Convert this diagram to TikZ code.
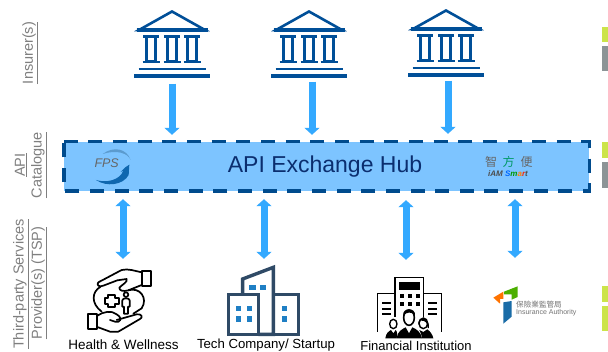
\documentclass[tikz,border=0pt]{standalone}
\usepackage{fontspec}
\setmainfont{Liberation Sans}
\newfontfamily\cjkfont{Noto Sans CJK TC}
\usetikzlibrary{arrows.meta}
\definecolor{bankblue}{HTML}{004F98}
\definecolor{hubfill}{HTML}{7DC4FF}
\definecolor{hubdash}{HTML}{004B8D}
\definecolor{hubtext}{HTML}{0B2E6F}
\definecolor{arrowblue}{HTML}{33A9FF}
\definecolor{sidegray}{HTML}{7F7F7F}
\definecolor{slate}{HTML}{2F4A66}
\definecolor{winblue}{HTML}{1F7FC4}
\definecolor{tilegreen}{HTML}{CCE44A}
\definecolor{tilegray}{HTML}{8C9496}
\tikzset{
  oneway/.style={draw=arrowblue,line width=7pt,-{Triangle[width=15pt,length=7pt]}},
  twoway/.style={draw=arrowblue,line width=7pt,{Triangle[width=15pt,length=7pt]}-{Triangle[width=15pt,length=7pt]}},
  sidelabel/.style={rotate=90,text=sidegray,font=\fontsize{14.5}{15}\selectfont,inner sep=0pt,anchor=center},
  caption/.style={text=black,inner sep=0pt,anchor=center},
  iconbox/.style={inner sep=0pt,minimum width=#1},
  bankline/.style={draw=bankblue,line width=2.6pt},
  pics/bank/.style={code={
    \draw[draw=bankblue,line width=2.6pt,line join=miter] (-33,30) -- (0,11.5) -- (33,30) -- cycle;
    \draw[bankline,line width=3.4pt] (-35.5,30) -- (35.5,30);
    \foreach \cx in {-21,0,20}{
      \draw[draw=bankblue,line width=2.4pt] (\cx-4.6,37) rectangle (\cx+4.6,61);
      \draw[bankline,line width=2.6pt] (\cx-8,36.5) -- (\cx+8,36.5);
      \draw[bankline,line width=2.6pt] (\cx-8.5,62) -- (\cx+8.5,62);
    }
    \draw[bankline,line width=2.8pt] (-33.5,69) -- (33.5,69);
    \draw[bankline,line width=3.2pt] (-38,76) -- (38,76);
  }},
  handline/.style={draw=black,line width=1.7pt,line join=round,line cap=round,fill=none},
}
\begin{document}
\begin{tikzpicture}[x=1pt,y=-1pt]
\useasboundingbox (0,0) rectangle (608,352);
\fill[white] (0,0) rectangle (608,352);
% clipped tiles on the right edge
\fill[tilegreen] (602,27) rectangle (608,42);
\fill[tilegray] (602,46) rectangle (608,71);
\fill[tilegreen] (602,142) rectangle (608,158);
\fill[tilegray] (602,162) rectangle (608,188);
\fill[tilegreen] (602,286) rectangle (608,302);
\fill[tilegreen] (602,306) rectangle (608,331);
% banks
\pic at (172,0) {bank};
\pic at (309,0) {bank};
\pic at (446,-1) {bank};
\node[iconbox=76,minimum height=67] (bank1) at (172,44) {};
\node[iconbox=76,minimum height=67] (bank2) at (309,44) {};
\node[iconbox=76,minimum height=67] (bank3) at (446,43) {};
% hub
\node[fill=hubfill,minimum width=525,minimum height=49,inner sep=0pt] (hub) at (326.5,166.5) {};
\draw[draw=hubdash,line width=3.4pt,dash pattern=on 14pt off 10.65pt] (hub.north west) -- (hub.north east) -- (hub.south east) -- (hub.south west) -- cycle;
\node[font=\fontsize{23}{24}\selectfont,text=hubtext,inner sep=0pt] (hubtitle) at (325,167) {API Exchange Hub};
% FPS logo
\begin{scope}[shift={(60,130)},x=0.3333pt,y=-0.3333pt]
  \fill[arrowblue!40!hubdash!70!white] (128,72) .. controls (160,48) and (200,55) .. (212,90) .. controls (205,70) and (170,58) .. (128,72) -- cycle;
  \fill[hubdash!70!arrowblue] (196,112) -- (208,104) -- (206,135) .. controls (190,165) and (140,172) .. (108,150) .. controls (140,160) and (180,150) .. (190,122) -- (182,126) -- cycle;
  \node[text=black!60,font=\fontsize{12.5}{13}\selectfont\itshape,inner sep=0pt] (fps) at (140,100) {FPS};
\end{scope}
% iAM Smart logo
\begin{scope}[shift={(480,130)},x=0.3333pt,y=-0.3333pt]
  \node[text=black!60,font=\cjkfont\fontsize{12}{13}\selectfont,inner sep=0pt] (zhi) at (33,95) {智};
  \node[text=teal!80!green,font=\cjkfont\fontsize{12}{13}\selectfont,inner sep=0pt] (fang) at (86,95) {方};
  \node[text=black!60,font=\cjkfont\fontsize{12}{13}\selectfont,inner sep=0pt] (bian) at (140,95) {便};
  \node[font=\fontsize{8}{9}\selectfont\itshape\bfseries,inner sep=0pt] (iam) at (84,132) {\textcolor{black!70}{iAM} \textcolor{blue!60!cyan}{S}\textcolor{green!60!black}{m}\textcolor{orange}{a}\textcolor{red!70!orange}{r}\textcolor{black!70}{t}};
\end{scope}
% side labels
\node[sidelabel] (ins) at (30,53) {\underline{Insurer(s)}};
\node[sidelabel] (api) at (21,165) {\underline{API}};
\node[sidelabel] (cat) at (39,165) {\underline{Catalogue}};
\node[sidelabel] (tp) at (21,284) {\underline{Third-party Services}};
\node[sidelabel] (prov) at (39,283) {\underline{Provider(s) (TSP)}};
% arrows banks to hub
\draw[oneway,shorten <=6pt,shorten >=7pt] (bank1.south) -- (bank1.south |- hub.north);
\draw[oneway,shorten <=4pt,shorten >=7pt] ([xshift=3pt]bank2.south) -- ([xshift=3pt]bank2.south |- hub.north);
\draw[oneway,shorten <=4pt,shorten >=8pt] ([xshift=2pt]bank3.south) -- ([xshift=2pt]bank3.south |- hub.north);
% bottom icon anchors
\node[iconbox=60,minimum height=62] (health) at (123,297) {};
\node[iconbox=73,minimum height=70] (tech) at (264,300) {};
\node[iconbox=65,minimum height=60] (fin) at (406,308) {};
\node[iconbox=80,minimum height=40] (ia) at (515,310) {};
\draw[twoway,shorten <=8pt,shorten >=7pt] (hub.south -| health.north) -- (health.north);
\draw[twoway,shorten <=8pt,shorten >=6pt] (hub.south -| tech.north) -- (tech.north);
\draw[twoway,shorten <=9pt,shorten >=18pt] (hub.south -| fin.north) -- (fin.north);
\draw[twoway,shorten <=8pt,shorten >=32pt] (hub.south -| ia.north) -- (ia.north);
% health icon
\begin{scope}[shift={(60,255)},x=0.3333pt,y=-0.3333pt]
  \draw[handline] (245,48) rectangle (272,92);
  \draw[handline] (245,52) .. controls (225,48) and (205,40) .. (185,45) -- (115,82) .. controls (108,90) and (118,98) .. (130,92) -- (172,76) -- (200,72) .. controls (205,80) and (185,90) .. (178,98) .. controls (178,108) and (190,110) .. (205,106) -- (245,90);
  \draw[handline] (85,178) rectangle (112,222);
  \draw[handline] (112,182) .. controls (130,170) and (155,165) .. (170,178) .. controls (190,190) and (180,205) .. (165,200) -- (150,195);
  \draw[handline] (170,195) -- (230,178) .. controls (245,175) and (250,188) .. (240,192) -- (175,230) -- (150,230) -- (112,216);
  \draw[handline] (122,95) .. controls (95,110) and (92,145) .. (125,170);
  \draw[handline] (205,106) .. controls (240,95) and (265,130) .. (245,160) -- (220,176);
  \draw[handline] (145,120) -- (165,120) -- (165,130) -- (176,130) -- (176,146) -- (165,146) -- (165,156) -- (145,156) -- (145,146) -- (134,146) -- (134,130) -- (145,130) -- cycle;
  \draw[handline] (198,119) circle (7);
  \draw[handline] (187,136) .. controls (187,128) and (209,128) .. (209,136) -- (209,155) -- (204,155) -- (204,176) -- (192,176) -- (192,155) -- (187,155) -- cycle;
\end{scope}
\node[caption,font=\fontsize{13.5}{14}\selectfont] (healthcap) at (123.5,345) {Health \& Wellness};
% tech icon
\begin{scope}[shift={(195,255)},x=0.3333pt,y=-0.3333pt]
  \draw[slate,line width=3.4pt,line join=miter] (100,118) rectangle (190,238);
  \draw[slate,line width=3.4pt,line join=miter] (235,118) rectangle (310,238);
  \draw[slate,line width=3.4pt,line join=miter] (190,238) -- (235,238) -- (235,37) -- (143,72) -- (143,118);
  \foreach \wx/\wy in {122/152,155/152,122/183,155/183,260/152,260/183}{
    \fill[winblue] (\wx,\wy) rectangle ++(17,17);
  }
  \fill[winblue] (163,90) rectangle ++(19,15);
  \fill[winblue] (195,90) rectangle ++(19,15);
\end{scope}
\node[caption,font=\fontsize{13.2}{14}\selectfont] (techcap) at (266,345.5) {Tech Company/ Startup};
% financial icon
\begin{scope}[shift={(360,270)},x=0.3333pt,y=-0.3333pt]
  \draw[black,line width=1.6pt] (105,140) -- (105,22) -- (190,22) -- (190,140);
  \draw[black,line width=1.6pt] (105,70) -- (52,70) -- (52,185);
  \draw[black,line width=1.6pt] (190,70) -- (245,70) -- (245,185);
  \fill[black] (117,37) rectangle (180,60);
  \foreach \wx in {120,144,168}{
    \fill[black] (\wx,72) rectangle ++(12,12);
    \fill[black] (\wx,97) rectangle ++(12,12);
  }
  \foreach \wy in {97,113,129}{
    \fill[black] (65,\wy) rectangle ++(27,6);
    \fill[black] (203,\wy) rectangle ++(27,6);
  }
  \fill[white] (118,118) rectangle (176,170);
  \draw[black,line width=1.6pt] (147,143) ellipse (16 and 23);
  \fill[black] (130,136) .. controls (126,112) and (168,112) .. (165,136) .. controls (155,124) and (140,126) .. (130,136) -- cycle;
  \fill[black] (110,205) .. controls (112,185) and (125,178) .. (137,172) -- (147,190) -- (157,172) .. controls (170,178) and (182,185) .. (186,205) -- cycle;
  \fill[white] (84,150) rectangle (116,178);
  \draw[black,line width=1.4pt] (100,162) ellipse (11 and 14);
  \fill[black] (76,205) .. controls (78,188) and (88,183) .. (93,180) -- (100,190) -- (107,180) .. controls (112,183) and (112,195) .. (110,205) -- cycle;
  \draw[black,line width=1.4pt,fill=white] (190,160) ellipse (13 and 16);
  \fill[black] (175,165) .. controls (170,138) and (210,138) .. (207,175) -- (202,172) .. controls (204,160) and (195,150) .. (182,152) .. controls (178,155) and (178,160) .. (175,165) -- cycle;
  \fill[black] (186,205) .. controls (184,190) and (180,185) .. (178,180) -- (190,186) -- (202,178) .. controls (212,185) and (218,195) .. (220,205) -- cycle;
\end{scope}
\node[caption,font=\fontsize{13}{14}\selectfont] (fincap) at (416,345.5) {Financial Institution};
% IA logo
\begin{scope}[shift={(480,275)},x=0.3333pt,y=-0.3333pt]
  \fill[orange!90!red] (40,68) -- (70,50) -- (70,72) -- (60,72) -- (60,86) -- cycle;
  \fill[green!55!black!70!yellow] (72,50) -- (113,34) -- (113,66) -- (95,74) -- (95,58) -- (72,58) -- cycle;
  \fill[winblue!85!black] (70,82) -- (95,78) -- (95,125) -- (70,146) -- cycle;
  \node[anchor=west,text=black!55,font=\cjkfont\fontsize{7.6}{8}\selectfont,inner sep=0pt] (iazh) at (108,88) {保險業監管局};
  \node[anchor=west,text=black!55,font=\fontsize{7}{8}\selectfont,inner sep=0pt] (iaen) at (108,113) {Insurance Authority};
\end{scope}
\end{tikzpicture}
\end{document}
